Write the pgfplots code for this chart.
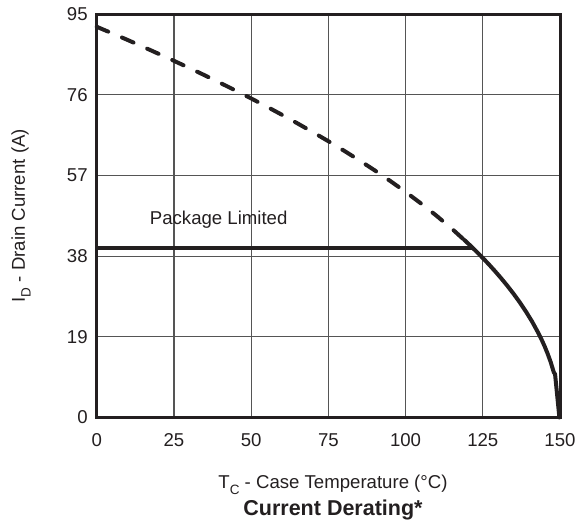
\documentclass[border=0pt]{standalone}
\usepackage{pgfplots}
\pgfplotsset{compat=1.18}
\usepackage{fontspec}
\setmainfont{Liberation Sans}
\definecolor{ink}{HTML}{231F20}
\definecolor{gridgray}{HTML}{555555}
\newcommand{\sub}[1]{\raisebox{-0.32em}{\fontsize{13.5bp}{13.5bp}\selectfont #1}}
\begin{document}
\begin{tikzpicture}[font=\fontsize{18.6bp}{22bp}\selectfont, text=ink]
\useasboundingbox (0,0) rectangle (576bp,529bp);
\begin{axis}[
  at={(96.7bp,111.5bp)}, anchor=south west,
  width=463.3bp, height=403.5bp, scale only axis,
  xmin=0, xmax=150, ymin=0, ymax=95,
  xtick={0,25,50,75,100,125,150},
  ytick={0,19,38,57,76,95},
  grid=major,
  major grid style={line width=1.2bp, color=gridgray},
  major tick length=0pt,
  axis line style={line width=3bp, ink},
  /pgf/number format/assume math mode=true,
  xticklabel style={yshift=-12.5bp, text=ink},
  yticklabel style={xshift=-5.5bp, text=ink},
  clip=false,
]
\addplot[ink, line width=4bp, line cap=round, dash pattern=on 12.5bp off 15bp] coordinates {
 (0,92.0) (5,90.45) (10,88.89) (15,87.28) (20,85.64) (25,83.98) (30,82.29)
 (35,80.56) (40,78.78) (45,76.97) (50,75.12) (55,73.22) (60,71.26) (65,69.25)
 (70,67.18) (75,65.05) (80,62.85) (85,60.56) (90,58.19) (95,55.71) (100,53.12)
 (105,50.39) (110,47.51) (115,44.44) (120,41.14) (121.5,40.10)
};
\addplot[ink, line width=4bp, line join=round, line cap=round] coordinates {
 (119,41.82) (121,40.45) (123,39.03) (125,37.56) (127,36.03) (129,34.42)
 (131,32.74) (133,30.97) (135,29.09) (137,27.09) (139,24.91) (141,22.54)
 (143,19.87) (144,18.40) (145,16.80) (146,15.02) (147,13.01) (148,10.62)
 (148.4,10.2) (149.8,0)
};
\addplot[ink, line width=4bp] coordinates {(0,40) (121.5,40)};
\node[ink] at (axis cs:39.5,46.5) {Package Limited};
\end{axis}
\node[rotate=90] at (21bp,313.3bp) {I\sub{D} - Drain Current (A)};
\node at (333bp,44bp) {T\sub{C} - Case Temperature (°C)};
\node at (333bp,19bp) {\fontsize{21.5bp}{24bp}\selectfont\bfseries Current Derating*};
\end{tikzpicture}
\end{document}
